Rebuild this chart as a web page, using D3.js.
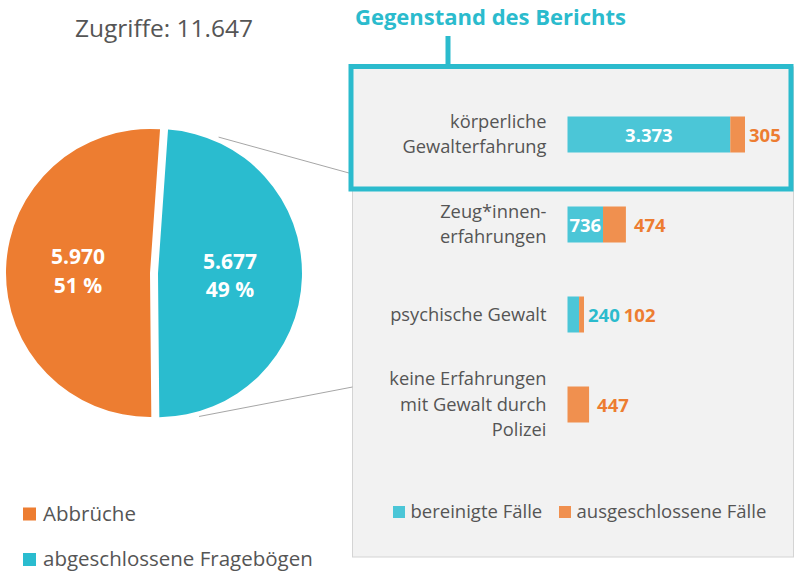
<!DOCTYPE html>
<html><head><meta charset="utf-8">
<script src="https://cdn.jsdelivr.net/npm/d3@7"></script>
<style>body{margin:0;background:#fff}svg{display:block}text{font-family:"Open Sans",sans-serif}</style>
</head><body>
<svg id="c" width="795" height="573"></svg>
<script>
// ---- data ----
const pieCategories = ["abgeschlossene Fragebögen", "Abbrüche"];
const pieValues = [5677, 5970];
const legendOrder = ["Abbrüche", "abgeschlossene Fragebögen"];
const barCategories = [
  ["körperliche", "Gewalterfahrung"],
  ["Zeug*innen-", "erfahrungen"],
  ["psychische Gewalt"],
  ["keine Erfahrungen", "mit Gewalt durch", "Polizei"]
];
const bereinigt = [3373, 736, 240, 0];
const ausgeschlossen = [305, 474, 102, 447];
const barSeries = ["bereinigte Fälle", "ausgeschlossene Fälle"];
const titleText = "Gegenstand des Berichts";
const totalLabel = "Zugriffe: ";

// ---- setup ----
const de = d3.formatLocale({decimal: ",", thousands: ".", grouping: [3], currency: ["", " €"]});
const fmt = de.format(",d");
const svg = d3.select("#c");
const gray = "#555555";
const pieColor = {"Abbrüche": "#ED7D31", "abgeschlossene Fragebögen": "#2ABCCF"};
const barCyan = "#4BC6D7", barOrange = "#F0904F";
const labOrange = "#ED7D31", labCyan = "#2BBBCD", boxCyan = "#2BBBCD";

const total = d3.sum(pieValues);

// ---- panel (behind) ----
svg.append("rect").attr("x", 352.5).attr("y", 67).attr("width", 441).attr("height", 490)
  .attr("fill", "#f2f2f2").attr("stroke", "#d4d4d4").attr("stroke-width", 1);

// ---- pie ----
const cx = 150, cy = 273, R = 144, explode = 8;
const deg = Math.PI / 180;
const pie = d3.pie().sort(null).value(d => d.v).startAngle(4 * deg).endAngle(364 * deg);
const arcs = pie(pieCategories.map((c, i) => ({c, v: pieValues[i]})));
const arc = d3.arc().innerRadius(0).outerRadius(R);
const gPie = svg.append("g").attr("transform", `translate(${cx},${cy})`);
arcs.forEach(a => {
  const mid = (a.startAngle + a.endAngle) / 2;
  const off = a.data.c === "abgeschlossene Fragebögen" ? explode : 0;
  const dx = off * Math.sin(mid), dy = -off * Math.cos(mid);
  const g = gPie.append("g").attr("transform", `translate(${dx},${dy})`);
  g.append("path").attr("d", arc(a)).attr("fill", pieColor[a.data.c]);
  const lab = d3.arc().innerRadius(0).outerRadius(144).centroid(a);
  const t = g.append("text").attr("fill", "#fff").attr("font-weight", 700)
    .attr("font-size", 21).attr("text-anchor", "middle");
  t.append("tspan").attr("x", lab[0]).attr("y", lab[1] - 6.5).text(fmt(a.data.v));
  t.append("tspan").attr("x", lab[0]).attr("y", lab[1] + 22).text(Math.round(a.data.v / total * 100) + " %");
  a.off = [dx, dy];
});

// connector lines from the completed-questionnaire slice to the panel
const cyanArc = arcs.find(a => a.data.c === "abgeschlossene Fragebögen");
const pt = (ang, r) => [cx + cyanArc.off[0] + r * Math.sin(ang * deg), cy + cyanArc.off[1] - r * Math.cos(ang * deg)];
const p1 = pt(24, R + 5), p2 = pt(164, R + 5);
svg.append("line").attr("x1", p1[0]).attr("y1", p1[1]).attr("x2", 349).attr("y2", 173)
  .attr("stroke", "#a6a6a6").attr("stroke-width", 1);
svg.append("line").attr("x1", p2[0]).attr("y1", p2[1]).attr("x2", 352.5).attr("y2", 387)
  .attr("stroke", "#a6a6a6").attr("stroke-width", 1);

// Zugriffe title
svg.append("text").attr("x", 164).attr("y", 37).attr("text-anchor", "middle")
  .attr("font-size", 24.5).attr("fill", gray).text(totalLabel + fmt(total));

// pie legend
legendOrder.forEach((c, i) => {
  const y = 520.5 + i * 45.5;
  svg.append("rect").attr("x", 23).attr("y", y - 13).attr("width", 13).attr("height", 13).attr("fill", pieColor[c]);
  svg.append("text").attr("x", 43).attr("y", y).attr("font-size", 20.5).attr("fill", gray).text(c);
});

// ---- bars ----
const keys = barCategories.map(d => d.join(" "));
const x = d3.scaleLinear().domain([0, bereinigt[0] + ausgeschlossen[0]]).range([567.5, 745]);
const y = d3.scaleBand().domain(keys).range([89.5, 449.5]).paddingInner(0.6).paddingOuter(0.3);
const gBar = svg.append("g");
keys.forEach((k, i) => {
  const y0 = y(k), h = y.bandwidth(), yc = y0 + h / 2;
  const b = bereinigt[i], a = ausgeschlossen[i];
  if (b > 0) gBar.append("rect").attr("x", x(0)).attr("y", y0).attr("width", x(b) - x(0)).attr("height", h).attr("fill", barCyan);
  gBar.append("rect").attr("x", x(b)).attr("y", y0).attr("width", x(b + a) - x(b)).attr("height", h).attr("fill", barOrange);
  let nextX = x(b + a) + (i === 0 ? 4 : 8);
  if (b > 0) {
    const w = x(b) - x(0);
    if (w > 25) {
      gBar.append("text").attr("x", (x(0) + x(b)) / 2).attr("y", yc + 7).attr("text-anchor", "middle")
        .attr("font-size", 18.5).attr("font-weight", 700).attr("fill", "#fff").text(fmt(b));
    } else {
      const t = gBar.append("text").attr("x", x(b + a) + 4).attr("y", yc + 7)
        .attr("font-size", 18.5).attr("font-weight", 700).attr("fill", labCyan).text(fmt(b));
      nextX = x(b + a) + 4 + t.node().getComputedTextLength() + 4;
    }
  }
  gBar.append("text").attr("x", nextX).attr("y", yc + 7)
    .attr("font-size", 18.5).attr("font-weight", 700).attr("fill", labOrange).text(fmt(a));
  // category label
  const lines = barCategories[i];
  const t = gBar.append("text").attr("text-anchor", "end").attr("font-size", 18.3).attr("fill", gray);
  lines.forEach((l, j) => {
    t.append("tspan").attr("x", 546.5).attr("y", yc + 6 + (j - (lines.length - 1) / 2) * 25.5).text(l);
  });
});

// bar legend
const legX = [393, 559];
barSeries.forEach((s, i) => {
  svg.append("rect").attr("x", legX[i]).attr("y", 506).attr("width", 12).attr("height", 12)
    .attr("fill", i === 0 ? barCyan : barOrange);
  svg.append("text").attr("x", legX[i] + 17.5).attr("y", 518).attr("font-size", 18.5).attr("fill", gray).text(s);
});

// highlight box
svg.append("rect").attr("x", 351).attr("y", 66.5).attr("width", 440).attr("height", 122.5)
  .attr("fill", "none").attr("stroke", boxCyan).attr("stroke-width", 5);
svg.append("line").attr("x1", 448).attr("x2", 448).attr("y1", 36).attr("y2", 66)
  .attr("stroke", boxCyan).attr("stroke-width", 5);
svg.append("text").attr("x", 355).attr("y", 25).attr("font-size", 22).attr("font-weight", 700)
  .attr("fill", boxCyan).text(titleText);
</script>
</body></html>
